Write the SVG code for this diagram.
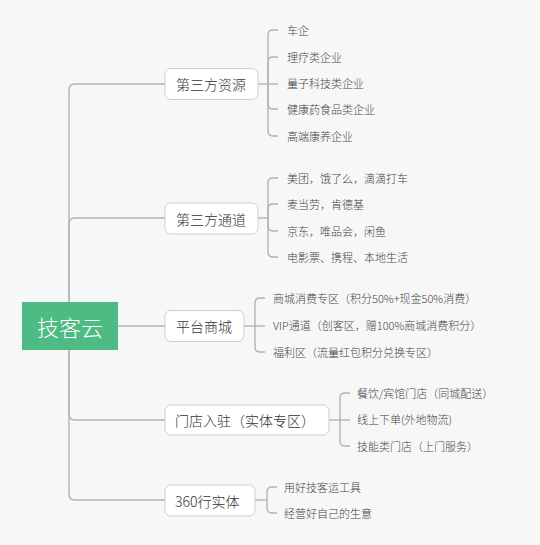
<svg xmlns="http://www.w3.org/2000/svg" width="540" height="545" viewBox="0 0 540 545">
<style>
.bg{fill:#f7f7f7}
.ln{fill:none;stroke:#b3b3b3;stroke-width:1.4}
.box{fill:#ffffff;stroke:#cfcfcf;stroke-width:1}
.bt{font-family:"Noto Sans CJK SC","Noto Sans",sans-serif;font-size:14px;font-weight:300;fill:#333;dominant-baseline:central}
.ct{font-family:"Noto Sans CJK SC","Noto Sans",sans-serif;font-size:11px;font-weight:300;fill:#444;dominant-baseline:central}
.rt{font-family:"Noto Sans CJK SC","Noto Sans",sans-serif;font-size:22px;font-weight:300;fill:#ffffff;dominant-baseline:central;text-anchor:middle}
</style>
<rect class="bg" x="0" y="0" width="540" height="545"/>
<g id="connectors">
  <path class="ln" d="M69,302 V90 Q69,84 75,84 H165"/>
  <path class="ln" d="M69,302 V224 Q69,218 75,218 H165"/>
  <path class="ln" d="M118,326 H165"/>
  <path class="ln" d="M69,350 V414 Q69,420 75,420 H165"/>
  <path class="ln" d="M69,350 V494 Q69,500 75,500 H165"/>
  <path class="ln" d="M258,84 H268"/>
  <path class="ln" d="M268,84 V35 Q268,30 273,30 H278"/>
  <path class="ln" d="M268,84 V62 Q268,57 273,57 H278"/>
  <path class="ln" d="M268,84 H278"/>
  <path class="ln" d="M268,84 V104 Q268,109 273,109 H278"/>
  <path class="ln" d="M268,84 V131 Q268,136 273,136 H278"/>
  <path class="ln" d="M258,218 H268"/>
  <path class="ln" d="M268,218 V183 Q268,178 273,178 H278"/>
  <path class="ln" d="M268,218 V209 Q268,204 273,204 H278"/>
  <path class="ln" d="M268,218 V226 Q268,231 273,231 H278"/>
  <path class="ln" d="M268,218 V252 Q268,257 273,257 H278"/>
  <path class="ln" d="M244,326 H265"/>
  <path class="ln" d="M255,326 V303 Q255,298 260,298 H265"/>
  <path class="ln" d="M255,326 V347 Q255,352 260,352 H265"/>
  <path class="ln" d="M329,420 H350"/>
  <path class="ln" d="M340,420 V398 Q340,393 345,393 H350"/>
  <path class="ln" d="M340,420 V441 Q340,446 345,446 H350"/>
  <path class="ln" d="M255,500 H267"/>
  <path class="ln" d="M267,500 V492 Q267,487 272,487 H277"/>
  <path class="ln" d="M267,500 V508 Q267,513 272,513 H277"/>
</g>
<g id="root">
  <rect x="22" y="302" width="96" height="48" fill="#4dbb83"/>
  <text class="rt" x="70" y="326">技客云</text>
</g>
<g id="n1">
  <rect class="box" x="165" y="68.5" width="93" height="31" rx="6"/>
  <text class="bt" x="176" y="84">第三方资源</text>
</g>
<g id="n2">
  <rect class="box" x="165" y="203" width="93" height="31" rx="6"/>
  <text class="bt" x="176" y="218.5">第三方通道</text>
</g>
<g id="n3">
  <rect class="box" x="165" y="310.5" width="79" height="31" rx="6"/>
  <text class="bt" x="176" y="326">平台商城</text>
</g>
<g id="n4">
  <rect class="box" x="165" y="405" width="164" height="30" rx="6"/>
  <text class="bt" x="175" y="420">门店入驻（实体专区）</text>
</g>
<g id="n5">
  <rect class="box" x="165" y="485" width="90" height="31" rx="6"/>
  <text class="bt" x="175" y="500.5">360行实体</text>
</g>
<g id="c1">
  <text class="ct" x="287" y="30">车企</text>
  <text class="ct" x="287" y="57">理疗类企业</text>
  <text class="ct" x="287" y="83">量子科技类企业</text>
  <text class="ct" x="287" y="109">健康药食品类企业</text>
  <text class="ct" x="287" y="136">高端康养企业</text>
</g>
<g id="c2">
  <text class="ct" x="287" y="178">美团，饿了么，滴滴打车</text>
  <text class="ct" x="287" y="204">麦当劳，肯德基</text>
  <text class="ct" x="287" y="231">京东，唯品会，闲鱼</text>
  <text class="ct" x="287" y="257">电影票、携程、本地生活</text>
</g>
<g id="c3">
  <text class="ct" x="273" y="298">商城消费专区（积分50%+现金50%消费）</text>
  <text class="ct" x="273" y="325">VIP通道（创客区，赠100%商城消费积分）</text>
  <text class="ct" x="273" y="352">福利区（流量红包积分兑换专区）</text>
</g>
<g id="c4">
  <text class="ct" x="357" y="393">餐饮/宾馆门店（同城配送）</text>
  <text class="ct" x="357" y="419">线上下单(外地物流)</text>
  <text class="ct" x="357" y="446">技能类门店（上门服务）</text>
</g>
<g id="c5">
  <text class="ct" x="284" y="487">用好技客运工具</text>
  <text class="ct" x="284" y="513">经营好自己的生意</text>
</g>
</svg>
